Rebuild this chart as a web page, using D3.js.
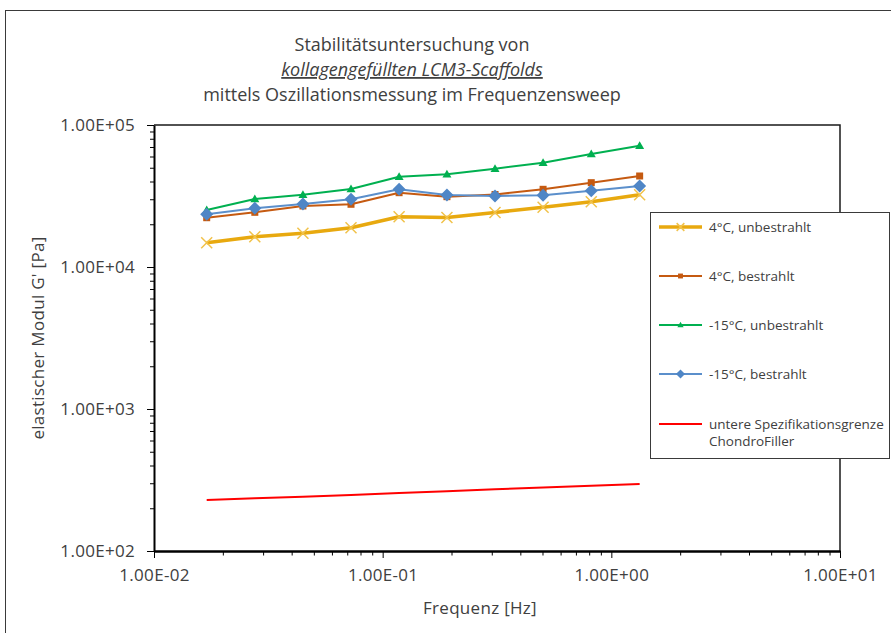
<!DOCTYPE html>
<html>
<head>
<meta charset="utf-8">
<script src="https://cdn.jsdelivr.net/npm/d3@7"></script>
<style>
  body { margin: 0; background: #fff; }
  svg { display: block; }
  text { font-family: "Open Sans", sans-serif; fill: #404040; }
</style>
</head>
<body>
<svg id="chart" width="891" height="633"></svg>
<script>
// Frequency sweep (Hz) and storage modulus G' (Pa) per sample group
const frequencies = [0.0170, 0.0276, 0.0448, 0.0727, 0.118, 0.191, 0.310, 0.503, 0.817, 1.33];
const g4Unbestrahlt = [14800, 16350, 17270, 18920, 22600, 22320, 24200, 26320, 28830, 32300];
const g4Bestrahlt = [22240, 24270, 26900, 27650, 33370, 31280, 32410, 35250, 39250, 43740];
const g15Unbestrahlt = [25200, 30130, 32300, 35430, 43240, 45050, 49250, 54300, 62500, 71500];
const g15Bestrahlt = [23500, 25900, 27780, 29970, 35250, 32150, 31620, 31980, 34460, 37170];
const specLimit = [229, 235, 241, 248, 256, 264, 272, 280, 288, 296];

const seriesNames = ["4°C, unbestrahlt", "4°C, bestrahlt", "-15°C, unbestrahlt", "-15°C, bestrahlt",
                     ["untere Spezifikationsgrenze", "ChondroFiller"]];
const titleLines = ["Stabilitätsuntersuchung von", "kollagengefüllten LCM3-Scaffolds",
                    "mittels Oszillationsmessung im Frequenzensweep"];
const xTicks = [0.01, 0.1, 1, 10];
const yTicks = [100, 1000, 10000, 100000];
const xTitle = "Frequenz [Hz]";
const yTitle = "elastischer Modul G' [Pa]";

const series = [
  { name: seriesNames[0], values: g4Unbestrahlt, color: "#E8A90F", width: 3.5, marker: "x", mColor: "#F1C24A" },
  { name: seriesNames[1], values: g4Bestrahlt, color: "#C55A11", width: 2, marker: "square", mColor: "#C55A11" },
  { name: seriesNames[2], values: g15Unbestrahlt, color: "#00B050", width: 2, marker: "triangle", mColor: "#00B050" },
  { name: seriesNames[3], values: g15Bestrahlt, color: "#5B8FCB", width: 2, marker: "diamond", mColor: "#4F86C6" },
  { name: seriesNames[4], values: specLimit, color: "#FF0000", width: 2, marker: null }
];

const svg = d3.select("#chart");
const plot = { left: 154, right: 840, top: 125, bottom: 551 };
const tickFont = 17, axisTitleFont = 17;

// outer chart frame
svg.append("rect").attr("x", 5.5).attr("y", 10.5).attr("width", 1000).attr("height", 1000)
  .attr("fill", "none").attr("stroke", "#3a3a3a").attr("stroke-width", 1);

const x = d3.scaleLog().domain([0.01, 10]).range([plot.left, plot.right]);
const y = d3.scaleLog().domain([100, 100000]).range([plot.bottom, plot.top]);

function sci(v) {
  const [m, e] = v.toExponential(2).split("e");
  const n = +e;
  return m + "E" + (n < 0 ? "-" : "+") + String(Math.abs(n)).padStart(2, "0");
}
function minorTicks(lo, hi) {
  const out = [];
  for (let d = lo; d < hi; d *= 10) for (let k = 2; k <= 9; k++) out.push(d * k);
  return out;
}

// plot frame (top / right)
svg.append("path")
  .attr("d", `M${plot.left},${plot.top}H${plot.right}V${plot.bottom}`)
  .attr("fill", "none").attr("stroke", "#1a1a1a").attr("stroke-width", 1.5);

// y axis
const yMinor = svg.append("g").attr("transform", `translate(${plot.left},0)`)
  .call(d3.axisLeft(y).tickValues(minorTicks(100, 100000)).tickSize(4).tickFormat(""));
yMinor.select(".domain").remove();
yMinor.selectAll("line").attr("stroke", "#000").attr("stroke-width", 1);
const yAxis = svg.append("g").attr("transform", `translate(${plot.left},0)`)
  .call(d3.axisLeft(y).tickValues(yTicks).tickSize(7).tickSizeOuter(0).tickPadding(12).tickFormat(sci));
yAxis.select(".domain").attr("stroke", "#000").attr("stroke-width", 2);
yAxis.selectAll("line").attr("stroke", "#000").attr("stroke-width", 1);
yAxis.selectAll("text").attr("font-size", tickFont).attr("fill", "#404040")
  .style("font-family", "'Open Sans', sans-serif").style("letter-spacing", "0.3px");

// x axis
const xMinor = svg.append("g").attr("transform", `translate(0,${plot.bottom})`)
  .call(d3.axisBottom(x).tickValues(minorTicks(0.01, 10)).tickSize(4.5).tickFormat(""));
xMinor.select(".domain").remove();
xMinor.selectAll("line").attr("stroke", "#000").attr("stroke-width", 1);
const xAxis = svg.append("g").attr("transform", `translate(0,${plot.bottom})`)
  .call(d3.axisBottom(x).tickValues(xTicks).tickSize(7).tickSizeOuter(0).tickPadding(11).tickFormat(sci));
xAxis.select(".domain").attr("stroke", "#000").attr("stroke-width", 2.5);
xAxis.selectAll("line").attr("stroke", "#000").attr("stroke-width", 1);
xAxis.selectAll("text").attr("font-size", tickFont).attr("fill", "#404040")
  .style("font-family", "'Open Sans', sans-serif").style("letter-spacing", "0.3px");

// axis titles
svg.append("text").attr("x", 480).attr("y", 614).attr("text-anchor", "middle")
  .attr("font-size", axisTitleFont).style("letter-spacing", "0.3px").text(xTitle);
svg.append("text").attr("transform", `translate(44,${(plot.top + plot.bottom) / 2}) rotate(-90)`)
  .attr("text-anchor", "middle").attr("font-size", axisTitleFont).style("letter-spacing", "0.3px").text(yTitle);

// title
const title = svg.append("text").attr("text-anchor", "middle").attr("font-size", 18);
titleLines.forEach((t, i) => {
  const ts = title.append("tspan").attr("x", 412).attr("y", 51 + i * 25).text(t);
  if (i === 1) ts.attr("font-style", "italic").attr("text-decoration", "underline");
});

// marker drawing
function drawMarker(sel, kind, color, scale) {
  const s = scale || 1;
  if (kind === "x") {
    const h = 5.5 * s;
    sel.append("path").attr("d", `M${-h},${-h}L${h},${h}M${-h},${h}L${h},${-h}`)
      .attr("stroke", color).attr("stroke-width", 1.5).attr("fill", "none");
  } else if (kind === "square") {
    const h = 3.5 * s;
    sel.append("rect").attr("x", -h).attr("y", -h).attr("width", 2 * h).attr("height", 2 * h).attr("fill", color);
  } else if (kind === "triangle") {
    const h = 4.5 * s;
    sel.append("path").attr("d", `M0,${-h}L${h},${h * 0.75}L${-h},${h * 0.75}Z`).attr("fill", color);
  } else if (kind === "diamond") {
    const h = 6.5 * s;
    sel.append("path").attr("d", `M0,${-h}L${h},0L0,${h}L${-h},0Z`).attr("fill", color);
  }
}

const line = d3.line().x(d => x(d[0])).y(d => y(d[1]));

series.forEach(s => {
  const pts = frequencies.map((f, i) => [f, s.values[i]]);
  const g = svg.append("g");
  g.append("path").datum(pts).attr("d", line).attr("fill", "none")
    .attr("stroke", s.color).attr("stroke-width", s.width).attr("stroke-linejoin", "round");
  if (s.marker) {
    pts.forEach(p => {
      const m = g.append("g").attr("transform", `translate(${x(p[0])},${y(p[1])})`);
      drawMarker(m, s.marker, s.mColor);
    });
  }
});

// legend
const legend = svg.append("g");
legend.append("rect").attr("x", 650.5).attr("y", 212.5).attr("width", 239).attr("height", 246)
  .attr("fill", "#fff").attr("stroke", "#3a3a3a").attr("stroke-width", 1);
const rowY = [227, 276, 325, 374, 424];
series.forEach((s, i) => {
  const gy = rowY[i];
  legend.append("line").attr("x1", 659).attr("x2", 702).attr("y1", gy).attr("y2", gy)
    .attr("stroke", s.color).attr("stroke-width", s.width);
  if (s.marker) {
    const m = legend.append("g").attr("transform", `translate(680.5,${gy})`);
    drawMarker(m, s.marker, s.mColor, 0.7);
  }
  const names = Array.isArray(s.name) ? s.name : [s.name];
  names.forEach((n, k) => {
    legend.append("text").attr("x", 709).attr("y", gy + 5 + k * 17).attr("font-size", 13.5).text(n);
  });
});
</script>
</body>
</html>
